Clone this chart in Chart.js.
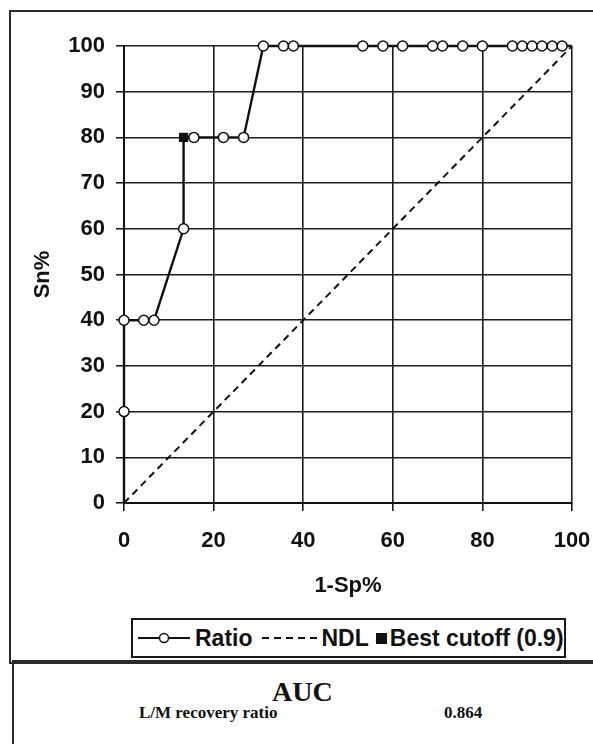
<!DOCTYPE html>
<html>
<head>
<meta charset="utf-8">
<script src="https://cdn.jsdelivr.net/npm/chart.js@4.4.1/dist/chart.umd.min.js"></script>
<style>
    body { margin: 0; background: #fff; width: 593px; height: 744px; overflow: hidden; position: relative; font-family: "Liberation Sans", Arial, sans-serif; }
    #frame { position: absolute; left: 9px; top: 10px; width: 600px; height: 650px; border: 2px solid #2a2a2a; }
    #wrap { position: absolute; left: 0; top: 0; width: 593px; height: 610px; }
    #legend { position: absolute; left: 131px; top: 618px; width: 431px; height: 36px; border: 2px solid #1a1a1a; overflow: hidden;
              display: flex; align-items: center; white-space: nowrap; font-weight: bold; font-size: 23px; color: #111; }
    #legend svg { display: block; }
    #auc { position: absolute; left: 12px; top: 660px; width: 600px; height: 100px; border-left: 2px solid #2a2a2a; border-top: 2px solid #2a2a2a;
           font-family: "Liberation Serif", "Times New Roman", serif; font-weight: bold; color: #111; }
    #auc .title { position: absolute; left: 258px; top: 14px; font-size: 28px; }
    #auc .name { position: absolute; left: 125px; top: 41px; font-size: 17px; }
    #auc .val { position: absolute; left: 430px; top: 41px; font-size: 17px; }
</style>
</head>
<body>
<div id="frame"></div>
<div id="wrap"><canvas id="roc"></canvas></div>
<div id="legend">
    <svg width="52" height="14" style="margin-left:5px"><line x1="0" y1="7" x2="52" y2="7" stroke="#111" stroke-width="2"/><circle cx="26" cy="7" r="4.5" fill="#fff" stroke="#111" stroke-width="1.5"/></svg>
    <span style="margin-left:5px">Ratio</span>
    <svg width="56" height="14" style="margin-left:9px"><line x1="0" y1="7" x2="56" y2="7" stroke="#111" stroke-width="2" stroke-dasharray="7,5"/></svg>
    <span style="margin-left:4px">NDL</span>
    <svg width="11" height="11" style="margin-left:7px"><rect x="0" y="0" width="11" height="11" fill="#111"/></svg>
    <span style="margin-left:3px">Best cutoff (0.9)</span>
</div>
<div id="auc">
    <div class="title">AUC</div>
    <div class="name">L/M recovery ratio</div>
    <div class="val">0.864</div>
</div>
<script>
// ROC of the L/M recovery ratio (1-Sp% vs Sn%)
const ratioFpr = [0, 0, 0, 4.4, 6.7, 13.3, 13.3, 15.6, 22.2, 26.7, 31.1, 35.6, 37.8, 53.3, 57.8, 62.2, 68.9, 71.1, 75.6, 80.0, 86.7, 88.9, 91.1, 93.3, 95.6, 97.8, 100];
const ratioSn  = [0, 20, 40, 40, 40, 60, 80, 80, 80, 80, 100, 100, 100, 100, 100, 100, 100, 100, 100, 100, 100, 100, 100, 100, 100, 100, 100];
const ndlFpr = [0, 100];
const ndlSn = [0, 100];
const bestFpr = [13.3];
const bestSn = [80];
const xTicks = [0, 20, 40, 60, 80, 100];
const yTicks = [0, 10, 20, 30, 40, 50, 60, 70, 80, 90, 100];

const ink = '#111';
const toPts = (xs, ys) => xs.map((x, i) => ({ x, y: ys[i] }));

// no marker on the curve's end anchors or under the best-cutoff square
const ratioRadius = (ctx) => {
    const i = ctx.dataIndex;
    if (i === 0 || i === ratioFpr.length - 1) return 0;
    if (ratioFpr[i] === bestFpr[0] && ratioSn[i] === bestSn[0]) return 0;
    return 5;
};

new Chart(document.getElementById('roc'), {
    type: 'scatter',
    data: {
        datasets: [
            {
                label: 'Best cutoff (0.9)',
                data: toPts(bestFpr, bestSn),
                pointStyle: 'rect',
                pointRadius: 6.5,
                backgroundColor: ink,
                borderColor: ink,
                borderWidth: 0,
                clip: false
            },
            {
                label: 'Ratio',
                data: toPts(ratioFpr, ratioSn),
                showLine: true,
                borderColor: ink,
                borderWidth: 2.4,
                pointRadius: ratioRadius,
                pointBackgroundColor: '#fff',
                pointBorderColor: ink,
                pointBorderWidth: 1.5,
                clip: false
            },
            {
                label: 'NDL',
                data: toPts(ndlFpr, ndlSn),
                showLine: true,
                borderColor: ink,
                borderWidth: 2,
                borderDash: [7, 5],
                pointRadius: 0,
                clip: false
            }
        ]
    },
    options: {
        responsive: true,
        maintainAspectRatio: false,
        animation: false,
        layout: { padding: { left: 30, right: 21, top: 46, bottom: 0 } },
        plugins: { legend: { display: false }, tooltip: { enabled: false } },
        scales: {
            x: {
                type: 'linear',
                min: 0,
                max: 100,
                afterBuildTicks: (s) => { s.ticks = xTicks.map(v => ({ value: v })); },
                afterFit: (s) => { s.height = 107; s.paddingLeft = 0; s.paddingRight = 0; },
                grid: { color: '#1c1c1c', lineWidth: 1.6, tickLength: 8 },
                border: { color: ink, width: 2 },
                ticks: { color: ink, padding: 17, font: { family: 'Liberation Sans', size: 22, weight: 'bold' } },
                title: { display: true, text: '1-Sp%', color: ink, padding: { top: 0, bottom: 11 }, font: { family: 'Liberation Sans', size: 22, weight: 'bold' } }
            },
            y: {
                type: 'linear',
                min: 0,
                max: 100,
                afterBuildTicks: (s) => { s.ticks = yTicks.map(v => ({ value: v })); },
                afterFit: (s) => { s.width = 94; },
                grid: { color: '#1c1c1c', lineWidth: 1.6, tickLength: 8 },
                border: { color: ink, width: 2 },
                ticks: { color: ink, padding: 11, font: { family: 'Liberation Sans', size: 22, weight: 'bold' } },
                title: { display: true, text: 'Sn%', color: ink, padding: { top: 0, bottom: 0 }, font: { family: 'Liberation Sans', size: 22, weight: 'bold' } }
            }
        }
    }
});
</script>
</body>
</html>
